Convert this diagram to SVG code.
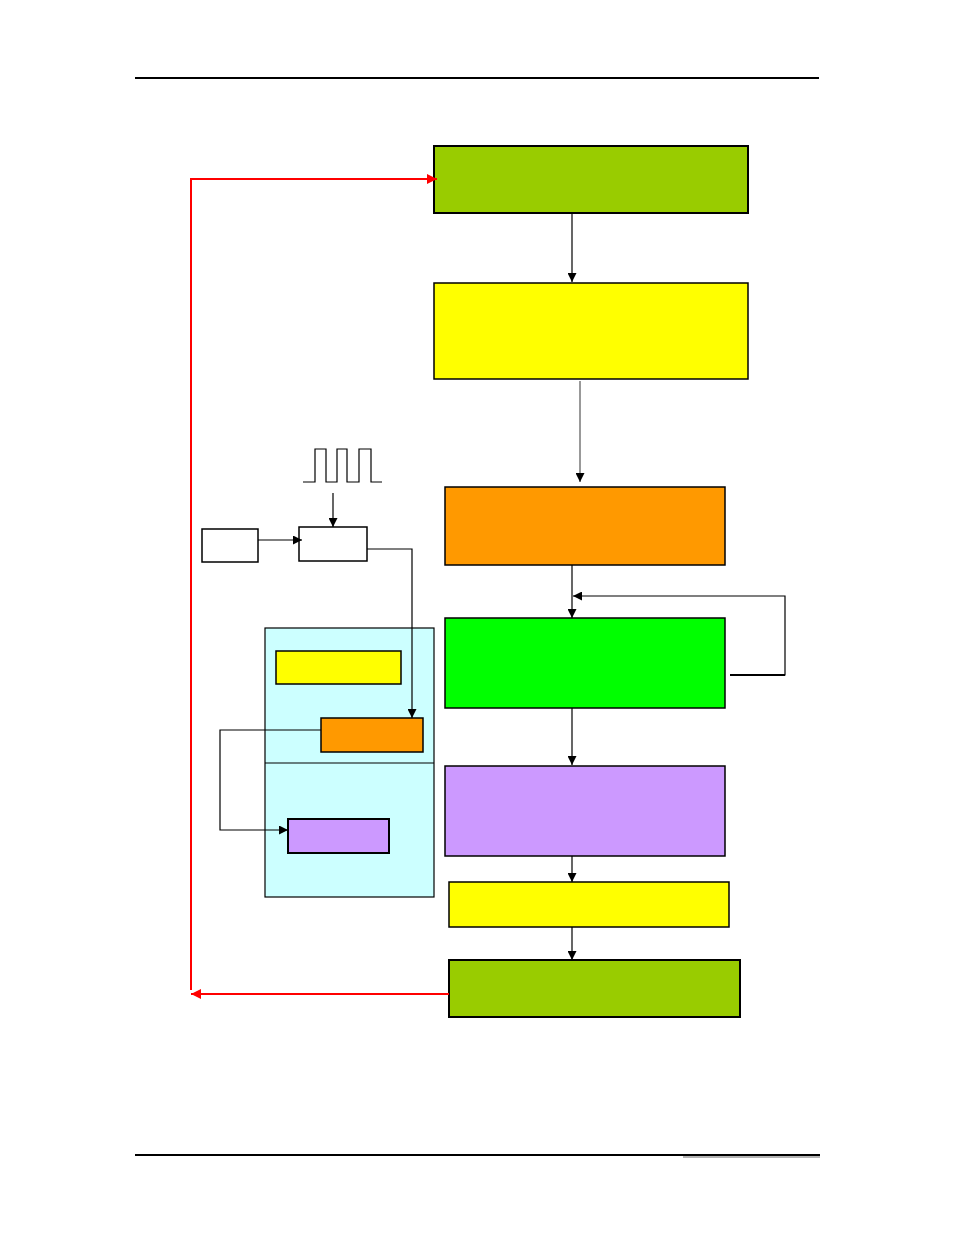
<svg xmlns="http://www.w3.org/2000/svg" width="954" height="1235" viewBox="0 0 954 1235">
<style>
.box{stroke:#000;stroke-width:1.5}
.thick{stroke:#000;stroke-width:2}
.ln{fill:none;stroke:#000;stroke-width:1.2}
.red{fill:none;stroke:#FF0000;stroke-width:2}
</style>
<defs>
<marker id="ah" viewBox="0 0 10 10" refX="10" refY="5" markerWidth="9" markerHeight="9" markerUnits="userSpaceOnUse" orient="auto">
<path d="M0,0 L10,5 L0,10 z" fill="#000"/>
</marker>
<marker id="rah" viewBox="0 0 10 10" refX="10" refY="5" markerWidth="10" markerHeight="10" markerUnits="userSpaceOnUse" orient="auto">
<path d="M0,0 L10,5 L0,10 z" fill="#FF0000"/>
</marker>
</defs>
<rect width="954" height="1235" fill="#fff"/>
<line x1="135" y1="78" x2="819" y2="78" stroke="#000" stroke-width="2"/>
<line x1="135" y1="1155" x2="820" y2="1155" stroke="#000" stroke-width="2"/>
<line x1="683" y1="1157" x2="820" y2="1157" stroke="#666" stroke-width="1"/>

<g id="container">
<rect x="265" y="628" width="169" height="269" fill="#CCFFFF" stroke="#000" stroke-width="1.2"/>
<line x1="265" y1="763" x2="434" y2="763" stroke="#000" stroke-width="1.2"/>
</g>
<g id="n1"><rect class="thick" x="434" y="146" width="314" height="67" fill="#99CC00"/></g>
<g id="n2"><rect class="box" x="434" y="283" width="314" height="96" fill="#FFFF00"/></g>
<g id="n3"><rect class="box" x="445" y="487" width="280" height="78" fill="#FF9900"/></g>
<g id="n4"><rect class="box" x="445" y="618" width="280" height="90" fill="#00FF00"/></g>
<g id="n5"><rect class="box" x="445" y="766" width="280" height="90" fill="#CC99FF"/></g>
<g id="n6"><rect class="box" x="449" y="882" width="280" height="45" fill="#FFFF00"/></g>
<g id="n7"><rect class="thick" x="449" y="960" width="291" height="57" fill="#99CC00"/></g>
<g id="src"><rect class="box" x="202" y="529" width="56" height="33" fill="#fff"/></g>
<g id="gate"><rect class="box" x="299" y="527" width="68" height="34" fill="#fff"/></g>
<g id="sy"><rect class="box" x="276" y="651" width="125" height="33" fill="#FFFF00"/></g>
<g id="so"><rect class="box" x="321" y="718" width="102" height="34" fill="#FF9900"/></g>
<g id="sp"><rect class="thick" x="288" y="819" width="101" height="34" fill="#CC99FF"/></g>
<g id="pulse">
<polyline class="ln" points="303,482 315,482 315,449 326,449 326,482 337,482 337,449 347,449 347,482 359,482 359,449 371,449 371,482 382,482"/>
</g>

<g id="connectors">
<line class="ln" x1="572" y1="213" x2="572" y2="282" marker-end="url(#ah)"/>
<line x1="580" y1="381" x2="580" y2="482" stroke="#555" stroke-width="1.2" marker-end="url(#ah)"/>
<line class="ln" x1="572" y1="565" x2="572" y2="618" marker-end="url(#ah)"/>
<polyline class="ln" points="730,675 785,675 785,596 573,596" marker-end="url(#ah)"/>
<line x1="730" y1="675" x2="785" y2="675" stroke="#000" stroke-width="2"/>
<line class="ln" x1="572" y1="708" x2="572" y2="765" marker-end="url(#ah)"/>
<line class="ln" x1="572" y1="856" x2="572" y2="882" marker-end="url(#ah)"/>
<line class="ln" x1="572" y1="927" x2="572" y2="960" marker-end="url(#ah)"/>
<line class="ln" x1="333" y1="493" x2="333" y2="527" marker-end="url(#ah)"/>
<line class="ln" x1="258" y1="540" x2="302" y2="540" marker-end="url(#ah)"/>
<polyline class="ln" points="367,549 412,549 412,718" marker-end="url(#ah)"/>
<polyline class="ln" points="321,730 220,730 220,830 288,830" marker-end="url(#ah)"/>
<polyline class="red" points="449,994 191,994"/>
<line x1="200" y1="994" x2="191" y2="994" stroke="#FF0000" stroke-width="2" marker-end="url(#rah)"/>
<polyline class="red" points="191,990 191,179 437,179" marker-end="url(#rah)"/>
</g>
</svg>
